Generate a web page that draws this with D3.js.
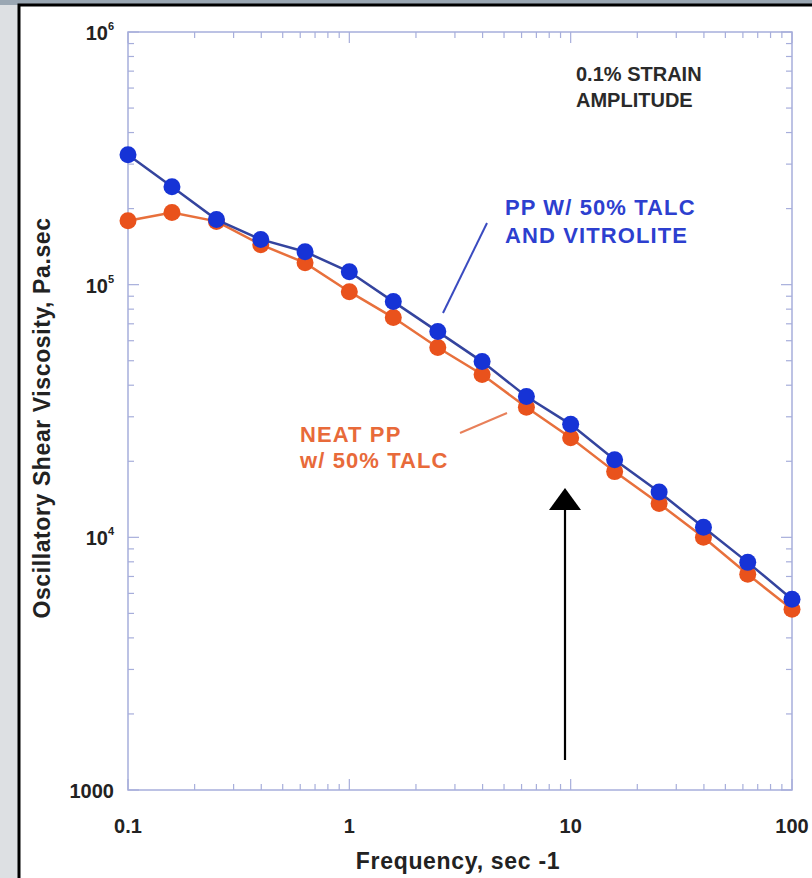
<!DOCTYPE html>
<html>
<head>
<meta charset="utf-8">
<script src="https://cdn.jsdelivr.net/npm/d3@7"></script>
<style>
  html, body { margin: 0; padding: 0; background: #dde0e3; }
  svg { display: block; }
  text { font-family: "Liberation Sans", Arial, sans-serif; font-weight: bold; }
</style>
</head>
<body>
<script>
// ---- data ----
const freq = [0.1, 0.158, 0.251, 0.398, 0.631, 1, 1.58, 2.51, 3.98, 6.31, 10, 15.8, 25.1, 39.8, 63.1, 100];
const talcVitrolite = [327000, 244000, 181000, 151000, 135000, 112500, 85700, 65200, 49600, 36100, 28000, 20300, 15100, 10960, 7960, 5690];
const neatTalc = [179000, 193000, 178000, 144000, 122000, 93800, 74100, 56400, 44100, 32700, 24800, 18200, 13600, 10000, 7140, 5190];
const xTickValues = [0.1, 1, 10, 100];
const xTickLabels = ["0.1", "1", "10", "100"];
const yTickValues = [1e6, 1e5, 1e4, 1000];
const yTickLabels = [["10", "6"], ["10", "5"], ["10", "4"], ["1000", ""]];

const W = 812, H = 878;
const svg = d3.select("body").append("svg").attr("width", W).attr("height", H);

// background + frame
svg.append("rect").attr("x", 0).attr("y", 0).attr("width", W).attr("height", 5).attr("fill", "#9aa7b3");
svg.append("rect").attr("x", 19).attr("y", 5).attr("width", W + 20).attr("height", H + 20)
  .attr("fill", "#ffffff").attr("stroke", "#000").attr("stroke-width", 3);

const x = d3.scaleLog().domain([0.1, 100]).range([128, 792]);
const y = d3.scaleLog().domain([1000, 1e6]).range([790, 32]);

const axisColor = "#a7aedb";
const g = svg.append("g");

// plot box
g.append("rect").attr("x", x(0.1)).attr("y", y(1e6))
  .attr("width", x(100) - x(0.1)).attr("height", y(1000) - y(1e6))
  .attr("fill", "none").attr("stroke", axisColor).attr("stroke-width", 1.5);

// ticks
const minorX = [], minorY = [];
for (let d = -1; d < 2; d++) for (let m = 2; m <= 9; m++) minorX.push(m * Math.pow(10, d));
for (let d = 3; d < 6; d++) for (let m = 2; m <= 9; m++) minorY.push(m * Math.pow(10, d));

function tickX(vals, len) {
  vals.forEach(v => {
    g.append("line").attr("x1", x(v)).attr("x2", x(v)).attr("y1", y(1000)).attr("y2", y(1000) - len)
      .attr("stroke", axisColor).attr("stroke-width", 1.2);
    g.append("line").attr("x1", x(v)).attr("x2", x(v)).attr("y1", y(1e6)).attr("y2", y(1e6) + len)
      .attr("stroke", axisColor).attr("stroke-width", 1.2);
  });
}
function tickY(vals, len) {
  vals.forEach(v => {
    g.append("line").attr("x1", x(0.1)).attr("x2", x(0.1) + len).attr("y1", y(v)).attr("y2", y(v))
      .attr("stroke", axisColor).attr("stroke-width", 1.2);
    g.append("line").attr("x1", x(100)).attr("x2", x(100) - len).attr("y1", y(v)).attr("y2", y(v))
      .attr("stroke", axisColor).attr("stroke-width", 1.2);
  });
}
tickX(minorX, 6); tickX(xTickValues, 11);
tickY(minorY, 6); tickY(yTickValues, 11);

// tick labels
xTickValues.forEach((v, i) => {
  svg.append("text").attr("x", x(v)).attr("y", 833).attr("text-anchor", "middle")
    .attr("font-size", 20).attr("fill", "#222").text(xTickLabels[i]);
});
yTickValues.forEach((v, i) => {
  const t = svg.append("text").attr("x", 114).attr("y", y(v) + 8).attr("text-anchor", "end")
    .attr("font-size", 20).attr("fill", "#222");
  t.append("tspan").text(yTickLabels[i][0]);
  if (yTickLabels[i][1]) t.append("tspan").attr("font-size", 11).attr("dy", -10).text(yTickLabels[i][1]);
});

// axis titles
svg.append("text").attr("x", 458).attr("y", 869).attr("text-anchor", "middle")
  .attr("font-size", 23).attr("letter-spacing", 0.7).attr("fill", "#222").text("Frequency, sec -1");
svg.append("text").attr("transform", "translate(50,418) rotate(-90)").attr("text-anchor", "middle")
  .attr("font-size", 23).attr("letter-spacing", 0.6).attr("fill", "#222").text("Oscillatory Shear Viscosity, Pa.sec");

// series
const line = d3.line().x(d => x(d[0])).y(d => y(d[1]));
const orangeData = freq.map((f, i) => [f, neatTalc[i]]);
const blueData = freq.map((f, i) => [f, talcVitrolite[i]]);

svg.append("path").datum(orangeData).attr("d", line).attr("fill", "none")
  .attr("stroke", "#e8703c").attr("stroke-width", 2.5);
svg.selectAll(".po").data(orangeData).enter().append("circle")
  .attr("cx", d => x(d[0])).attr("cy", d => y(d[1])).attr("r", 8.5).attr("fill", "#e9521c");

svg.append("path").datum(blueData).attr("d", line).attr("fill", "none")
  .attr("stroke", "#34449e").attr("stroke-width", 2.5);
svg.selectAll(".pb").data(blueData).enter().append("circle")
  .attr("cx", d => x(d[0])).attr("cy", d => y(d[1])).attr("r", 8.5).attr("fill", "#1633d6");

// annotations
svg.append("text").attr("x", 576).attr("y", 81).attr("font-size", 20).attr("fill", "#2a2a2a").text("0.1% STRAIN");
svg.append("text").attr("x", 576).attr("y", 107).attr("font-size", 20).attr("fill", "#2a2a2a").text("AMPLITUDE");

svg.append("text").attr("x", 505).attr("y", 215).attr("font-size", 22).attr("letter-spacing", 1.1).attr("fill", "#2d3fcf").text("PP W/ 50% TALC");
svg.append("text").attr("x", 505).attr("y", 243).attr("font-size", 22).attr("letter-spacing", 1.1).attr("fill", "#2d3fcf").text("AND VITROLITE");
svg.append("line").attr("x1", 487).attr("y1", 223).attr("x2", 443).attr("y2", 313)
  .attr("stroke", "#3a4bc0").attr("stroke-width", 2);

svg.append("text").attr("x", 300).attr("y", 442).attr("font-size", 22).attr("letter-spacing", 1.1).attr("fill", "#e86a3a").text("NEAT PP");
svg.append("text").attr("x", 300).attr("y", 468).attr("font-size", 22).attr("letter-spacing", 1.1).attr("fill", "#e86a3a").text("w/ 50% TALC");
svg.append("line").attr("x1", 460).attr("y1", 433).attr("x2", 507).attr("y2", 413)
  .attr("stroke", "#e8805a").attr("stroke-width", 2);

// black arrow
svg.append("line").attr("x1", 565).attr("y1", 760).attr("x2", 565).attr("y2", 505)
  .attr("stroke", "#000").attr("stroke-width", 2.2);
svg.append("path").attr("d", "M565,488 L549,510 L581,510 Z").attr("fill", "#000");
</script>
</body>
</html>
